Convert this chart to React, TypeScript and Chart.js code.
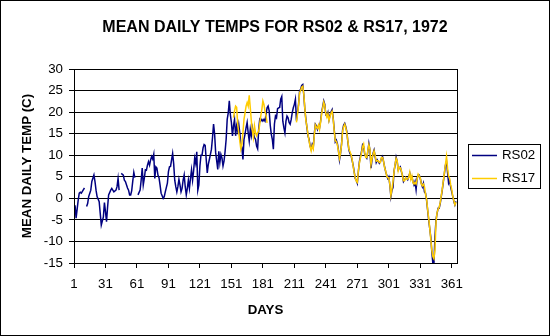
import React, { useEffect, useRef } from "react";
import { Chart, registerables } from "chart.js";

Chart.register(...registerables);

const TITLE = "MEAN DAILY TEMPS FOR RS02 & RS17, 1972";
const Y_TITLE = "MEAN DAILY TEMP (C)";
const X_TITLE = "DAYS";
const SERIES_NAMES = ["RS02", "RS17"];
const SERIES_COLORS = ["#000080", "#FFCC00"];
const X_TICKS = [1, 31, 61, 91, 121, 151, 181, 211, 241, 271, 301, 331, 361];
const Y_MIN = -15;
const Y_MAX = 30;
const Y_STEP = 5;

const rs02Days = [
  2, 3, 4, 5, 6, 7, 8, 9, 10, 11, 12, 13, 14, 15, 17, 18, 20, 21, 22, 23, 25, 26, 27, 29, 30, 31, 32, 33, 34, 36, 37, 39,
  41, 42, 43, 44, 45, 46, 48, 49, 50, 52, 53, 54, 55, 56, 57, 58, 59, 60,
  62, 64, 65, 66, 67, 68, 69, 70, 71, 72, 73, 74, 75, 76, 77, 78, 79, 80, 81, 82, 83, 84, 86, 87, 88, 90,
  91, 92, 93, 94, 95, 96, 97, 98, 99, 100, 101, 102, 103, 104, 105, 106, 107, 108, 109, 110, 111, 112, 113, 114, 115,
  116, 117, 118, 119, 120, 121, 122, 123, 124, 125, 126, 127, 128, 129, 130, 131, 132, 133, 134, 135, 136, 137, 138,
  139, 140, 141, 142, 143, 144, 145, 146, 147, 148, 149, 150, 151, 152, 153, 154, 155, 156, 157, 158, 159, 160, 161,
  162, 163, 164, 165, 166, 167, 168, 169, 170, 171, 172, 173, 174, 175, 176, 177, 178, 179, 180, 181, 182, 183, 184,
  185, 186, 187, 188, 189, 190, 191, 192, 193, 194, 195, 196, 197, 198, 199, 200, 201, 202, 203, 204, 205, 206, 207,
  208, 209, 210, 211, 212, 213, 214, 215, 216, 217, 218, 219, 220, 221, 222, 223, 224, 225, 226, 227, 228, 229, 230,
  231, 232, 233, 234, 235, 236, 237, 239, 240, 241, 242, 243, 244, 245, 246, 247, 248, 249, 250, 251, 252, 253, 254,
  255, 256, 257, 258, 259, 260, 261, 262, 263, 264, 265, 266, 267, 268, 269, 270, 271, 272, 273, 274, 275, 276, 277,
  278, 279, 280, 281, 282, 283, 284, 285, 286, 287, 288, 289, 290, 291, 292, 293, 294, 295, 296, 297, 298, 299, 300,
  301, 302, 303, 304, 305, 306, 307, 308, 309, 310, 311, 312, 313, 314, 315, 316, 317, 318, 319, 320, 321, 322, 323,
  324, 325, 326, 327, 328, 329, 330, 331, 332, 333, 334, 335, 336, 337, 338, 339, 340, 341, 342, 343, 344, 345, 346,
  347, 348, 349, 350, 351, 352, 353, 354, 355, 356, 357, 358, 359, 360, 361, 362, 363, 364, 365,
];
const rs02Temps = [
  -1.6, -4.6, -2.5, -0.4, 1.2, 1.4, 1.2, 1.6, 2.0, 2.4, null, -1.9, -1.2, 0.4, 1.9, 3.9, 5.4, 3.9, 1.9, 0.4, -0.8, -3.5, -6.2, -4.3, -1.0, -3.1, -5.4, -2.0, 0.8, 1.9, 2.3, 1.5,
  1.9, 2.7, 4.6, 1.9, null, 5.8, 5.4, 4.2, 3.9, 2.4, 1.9, 0.8, 0.8, 1.8, 4.0, 6.0, 4.8, null,
  0.8, 1.9, 4.2, 7.0, 3.1, 4.6, 6.6, 6.5, 7.7, 8.5, 7.7, 8.9, 9.7, 9.1, 10.2, 4.6, 7.3, 7.0, 5.4, 4.8, 3.1, 1.2, 0.0, 0.4, 1.5, 3.5,
  6.2, 7.3, 7.4, 8.9, 10.4, 8.0, 4.2, 2.7, 1.5, 2.7, 4.4, 3.1, 1.5, 2.3, 4.2, 5.4, 2.7, 0.8, 2.3, 4.2, 2.3, 4.6, 6.6, 4.2, 6.4,
  9.3, 8.1, 10.8, 1.9, 3.1, 7.5, 10.0, 10.0, 11.7, 12.5, 12.3, 9.0, 5.9, 7.9, 9.0, 10.2, 11.4, 14.1, 17.2, 14.9, 10.6, 8.7, 6.7,
  10.9, 8.3, 10.2, 9.4, 7.5, 8.7, 10.9, 13.7, 18.3, 19.8, 22.6, 19.4, 17.6, 14.5, 16.8, 18.3, 14.5, 16.8, 15.6, 17.2, 15.2, 12.5, 11.8,
  9.0, 13.7, 14.9, 16.4, 17.6, 15.2, 13.3, 16.0, 14.5, 16.4, 15.2, 14.1, 13.7, 12.1, 11.5, 16.0, 18.3, 17.9, 18.3, 17.9, 18.3, 17.9, 19.5,
  21.0, 21.4, 20.3, 17.0, 14.9, 13.7, 11.4, 17.2, 19.1, 18.7, 20.8, 21.0, 21.1, 23.0, 23.6, 17.9, 16.4, 15.2, 17.9, 19.1, 18.7, 17.6, 17.2,
  18.3, 19.9, 21.0, 21.8, 23.0, 18.0, 19.9, 21.8, 24.9, 25.3, 26.2, 26.4, 24.0, 20.6, 18.3, 16.4, 14.5, 13.7, 12.1, 11.4, 12.5, 11.8, 14.9,
  17.2, 16.8, 16.0, 16.8, 16.4, 17.9, 19.9, 22.6, 21.8, 19.3, 19.1, 19.9, 18.2, 19.3, 20.1, 20.6, 18.6, 15.9, 13.1, 13.5, 12.7, 11.2, 8.9,
  10.4, 12.7, 15.9, 17.0, 17.4, 16.6, 15.5, 13.1, 11.2, 10.4, 10.0, 8.9, 7.7, 6.2, 4.6, 4.2, 3.5, 6.2, 8.5, 9.7, 10.8, 12.4, 12.0,
  10.4, 9.7, 9.3, 10.8, 12.7, 11.2, 7.0, 8.9, 10.4, 11.2, 9.7, 8.3, 8.9, 8.5, 8.1, 8.5, 9.3, 9.7, 8.5, 7.3, 6.2, 5.4, 4.6,
  5.0, 3.1, 0.4, 1.9, 2.5, 6.4, 7.7, 9.5, 8.5, 6.6, 7.0, 7.3, 6.2, 5.4, 3.9, 4.3, 4.6, 4.6, 4.3, 5.0, 5.8, 4.6, 5.0,
  3.9, 3.1, 3.9, 2.0, 4.6, 5.4, 5.4, 4.6, 3.5, 2.7, 3.5, 1.5, 1.2, -0.4, -2.7, -5.0, -7.0, -9.0, -12.4, -15.1, -15.3, -9.0, -5.0,
  -3.5, -2.3, -2.3, -1.2, 0.4, 2.0, 3.9, 5.8, 7.7, 8.5, 6.0, 3.5, 4.0, 2.6, 1.5, 0.4, -0.7, -1.5, -0.7,
];

const rs17Days = [
  153, 154, 155, 156, 157, 158, 159, 160, 161, 162, 163, 164, 165, 166, 167, 168, 169, 170, 171, 172, 173, 174, 175, 176,
  177, 178, 179, 180, 181, 182, 183, 184, 185, 199,
  213, 214, 215, 216, 217, 218, 219, 220, 221, 222, 223, 224, 225, 226, 227, 228, 229, 230, 231, 232, 233, 234, 235, 236,
  237, 239, 240, 241, 242, 243, 244, 245, 246, 247, 248, 249, 250, 251, 252, 253, 254, 255, 256, 257, 258, 259, 260,
  261, 262, 263, 264, 265, 266, 267, 268, 269, 270, 271, 272, 273, 274, 275, 276, 277, 278, 279, 280, 281, 282, 283,
  284, 285, 286, 287, 288, 289, 290, 291, 292, 293, 294, 295, 296, 297, 298, 299, 300, 301, 302, 303, 304, 305, 306,
  307, 308, 309, 310, 311, 312, 313, 314, 315, 316, 317, 318, 319, 320, 321, 322, 323, 324, 325, 326, 327, 328, 329,
  330, 331, 332, 333, 334, 335, 336, 337, 338, 339, 340, 341, 342, 343, 344, 345, 346, 347, 348, 349, 350, 351, 352,
  353, 354, 355, 356, 357, 358, 359, 360, 361, 362, 363, 364, 365,
];
const rs17Temps = [
  18.7, 20.3, 21.4, 21.1, 17.2, 15.2, 13.3, 11.4, 12.5, 15.2, 18.3, 19.8, 21.4, 22.2, 21.4, 23.9, 21.0, 17.9, 15.6, 14.1, 16.8, 15.2, 14.5, 15.2,
  15.6, 17.2, 19.1, 20.6, 22.6, 21.8, 20.3, 19.1, 17.5, null,
  17.6, 19.6, 21.5, 24.5, 25.0, 25.8, 26.0, 24.2, 20.8, 18.0, 16.6, 14.8, 13.4, 12.0, 11.0, 12.2, 11.5, 14.6, 17.0, 16.5, 16.2, 17.0, 16.0, 17.6,
  19.6, 22.3, 21.5, 19.6, 18.8, 19.6, 18.0, 19.0, 19.8, 20.2, 18.4, 15.6, 13.3, 13.2, 12.4, 11.0, 9.3, 10.6, 12.4, 15.6, 16.6, 17.2, 16.4,
  15.2, 13.3, 11.4, 10.8, 10.2, 9.1, 7.5, 6.0, 4.8, 4.0, 3.7, 6.4, 8.2, 9.4, 10.5, 12.0, 12.6, 10.6, 9.5, 9.5, 11.0, 12.4, 11.4,
  7.8, 9.2, 10.2, 11.0, 9.9, 8.6, 8.7, 8.7, 8.3, 8.3, 9.5, 9.5, 8.7, 7.1, 6.4, 5.2, 4.8, 4.8, 3.3, 0.7, 2.2, 3.8, 6.2,
  7.9, 9.3, 8.7, 6.4, 7.2, 7.1, 6.4, 5.2, 4.1, 4.1, 4.8, 4.4, 4.5, 4.8, 6.0, 4.4, 5.2, 3.7, 3.3, 3.7, 3.3, 4.4, 5.6,
  5.2, 4.8, 3.3, 2.9, 3.3, 2.7, 1.0, -0.2, -2.5, -4.6, -6.8, -9.5, -12.0, -13.5, -14.0, -12.0, -5.5, -3.3, -2.5, -2.1, -1.0, 0.6, 2.2,
  4.1, 6.0, 7.9, 9.7, 7.0, 5.2, 4.6, 3.1, 2.0, 0.4, -0.5, -1.5, -0.9,
];

const FONT = '"Liberation Sans", Arial, sans-serif';

function toPoints(days: number[], temps: (number | null)[]) {
  return days.map((d, i) => ({ x: d, y: temps[i] }));
}

const decorPlugin = {
  id: "decor",
  beforeDraw(chart: any) {
    const { ctx, width, height } = chart;
    ctx.save();
    ctx.fillStyle = "#ffffff";
    ctx.fillRect(0, 0, width, height);
    ctx.restore();
  },
  afterDraw(chart: any) {
    const { ctx, chartArea: a, width, height } = chart;
    ctx.save();
    ctx.strokeStyle = "#000000";
    ctx.lineWidth = 1;
    ctx.strokeRect(
      Math.round(a.left) + 0.5,
      Math.round(a.top) + 0.5,
      Math.round(a.right) - Math.round(a.left),
      Math.round(a.bottom) - Math.round(a.top)
    );
    ctx.strokeRect(0.5, 0.5, width - 1, height - 1);

    ctx.fillStyle = "#000000";
    ctx.font = `bold 16px ${FONT}`;
    ctx.textAlign = "center";
    ctx.textBaseline = "middle";
    ctx.fillText(TITLE, width / 2, 28);

    // legend
    const lx = 468.5;
    const ly = 144.5;
    ctx.strokeRect(lx, ly, 72, 44);
    ctx.font = `13.3px ${FONT}`;
    ctx.textAlign = "left";
    SERIES_NAMES.forEach((name, i) => {
      const y = 155.5 + i * 23;
      ctx.strokeStyle = SERIES_COLORS[i];
      ctx.lineWidth = 1.5;
      ctx.beginPath();
      ctx.moveTo(472, y);
      ctx.lineTo(497, y);
      ctx.stroke();
      ctx.fillStyle = "#000000";
      ctx.fillText(name, 502, y);
    });
    ctx.restore();
  },
};

export default function App() {
  const ref = useRef<HTMLCanvasElement | null>(null);

  useEffect(() => {
    document.body.style.margin = "0";
    const canvas = ref.current;
    if (!canvas) return;
    const chart = new Chart(canvas, {
      type: "line",
      data: {
        datasets: [
          {
            label: SERIES_NAMES[1],
            data: toPoints(rs17Days, rs17Temps),
            borderColor: SERIES_COLORS[1],
            backgroundColor: SERIES_COLORS[1],
            borderWidth: 1.5,
            pointRadius: 0,
            tension: 0,
            spanGaps: false,
            order: 0,
          },
          {
            label: SERIES_NAMES[0],
            data: toPoints(rs02Days, rs02Temps),
            borderColor: SERIES_COLORS[0],
            backgroundColor: SERIES_COLORS[0],
            borderWidth: 1.5,
            pointRadius: 0,
            tension: 0,
            spanGaps: false,
            order: 1,
          },
        ],
      },
      options: {
        responsive: false,
        animation: false,
        devicePixelRatio: 1,
        layout: { padding: { left: 15, right: 93, top: 69, bottom: 12 } },
        plugins: {
          legend: { display: false },
          title: { display: false },
          tooltip: { enabled: false },
        },
        scales: {
          x: {
            type: "linear",
            min: 1,
            max: 366,
            afterBuildTicks: (scale: any) => {
              scale.ticks = X_TICKS.map((v) => ({ value: v }));
            },
            afterFit: (scale: any) => {
              scale.height = 61;
            },
            grid: {
              display: true,
              drawOnChartArea: false,
              drawTicks: true,
              tickLength: 5,
              color: "#000000",
            },
            border: { display: true, color: "#000000", width: 1 },
            ticks: {
              autoSkip: false,
              maxRotation: 0,
              padding: 8,
              color: "#000000",
              font: { family: FONT, size: 13.3 },
            },
            title: {
              display: true,
              text: X_TITLE,
              color: "#000000",
              font: { family: FONT, size: 13.3, weight: "bold" },
              padding: { top: 0, bottom: 6 },
            },
          },
          y: {
            type: "linear",
            min: Y_MIN,
            max: Y_MAX,
            afterFit: (scale: any) => {
              scale.width = 59;
            },
            ticks: {
              stepSize: Y_STEP,
              padding: 6,
              color: "#000000",
              font: { family: FONT, size: 13.3 },
            },
            grid: {
              color: "#000000",
              lineWidth: 1,
              drawTicks: true,
              tickLength: 5,
            },
            border: { display: true, color: "#000000", width: 1 },
            title: {
              display: true,
              text: Y_TITLE,
              color: "#000000",
              font: { family: FONT, size: 13.3, weight: "bold" },
              padding: { top: 4, bottom: 0 },
            },
          },
        },
      },
      plugins: [decorPlugin],
    } as any);
    return () => chart.destroy();
  }, []);

  return (
    <canvas
      ref={ref}
      width={550}
      height={336}
      style={{ display: "block", width: 550, height: 336 }}
    />
  );
}
